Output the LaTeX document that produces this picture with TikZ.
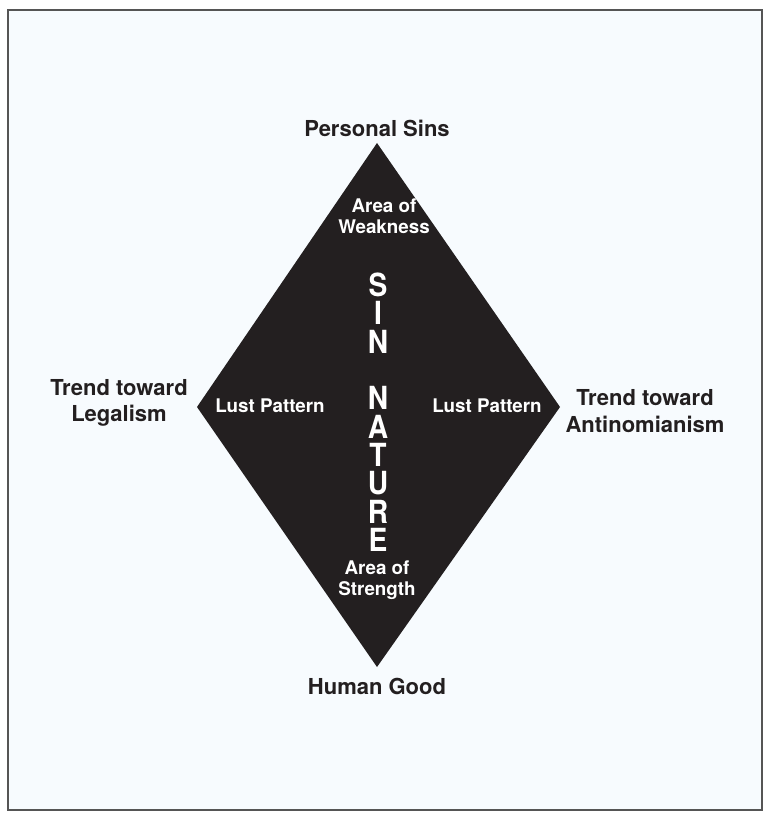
\documentclass[tikz,border=0pt]{standalone}
\usepackage{fontspec}
\setmainfont{TeX Gyre Heros}
\definecolor{bgblue}{HTML}{F7FBFE}
\definecolor{inkdark}{HTML}{231F20}
\definecolor{framegrey}{HTML}{555555}
\newcommand{\tallletter}[1]{\scalebox{1.15}[1.3]{\bfseries\fontsize{24.5}{24.5}\selectfont #1}}
\begin{document}
\begin{tikzpicture}[x=1pt,y=-1pt,
  outer/.style={font=\bfseries\fontsize{22}{26.5}\selectfont, text=inkdark, align=center, inner sep=0pt},
  inner/.style={font=\bfseries\fontsize{18.8}{21}\selectfont, text=white, align=center, inner sep=0pt},
  letter/.style={text=white, inner sep=0pt}]
\useasboundingbox (0,0) rectangle (764,813);
\fill[white] (0,0) rectangle (764,813);
\draw[framegrey, line width=1.2pt, fill=bgblue] (8,10) rectangle (762,810);
\coordinate (T) at (377,143);
\coordinate (B) at (377,667);
\coordinate (L) at (197,407);
\coordinate (R) at (560,407);
\fill[inkdark] (T) -- (R) -- (B) -- (L) -- cycle;
\node[outer] (ps) at (377,128) {Personal Sins};
\node[outer] (hg) at (377,686) {Human Good};
\node[outer] (leg) at (119,403) {Trend toward\\Legalism};
\node[outer] (ant) at (645,411) {Trend toward\\Antinomianism};
\node[inner] (aw) at (384,216) {Area of\\Weakness};
\node[inner] (as) at (377,580) {Area of\\Strength};
\node[inner] (lpl) at (270,406) {Lust Pattern};
\node[inner] (lpr) at (487,406) {Lust Pattern};
\foreach \ch/\k [count=\i] in {S/0,I/1,N/2,N/4,A/5,T/6,U/7,R/8,E/9}{
  \node[letter] (sn\i) at (378,{285+28.3*\k}) {\tallletter{\ch}};
}
\end{tikzpicture}
\end{document}
